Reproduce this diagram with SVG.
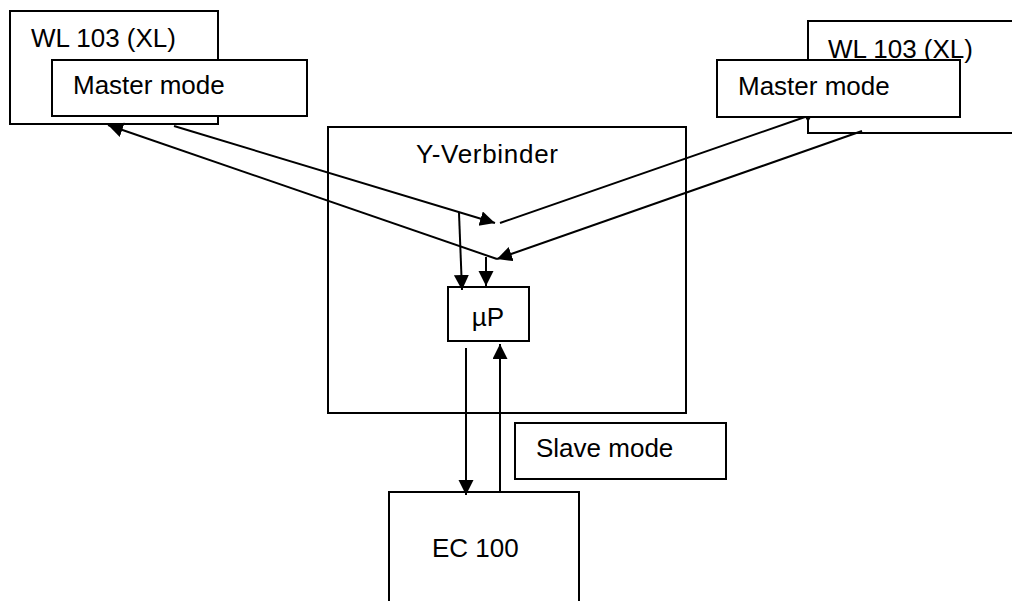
<svg xmlns="http://www.w3.org/2000/svg" width="1012" height="601" viewBox="0 0 1012 601">
<defs>
<style>
.box{fill:#fff;stroke:#000;stroke-width:2}
.frame{fill:none;stroke:#000;stroke-width:2}
.t{font-family:"Liberation Sans",Arial,sans-serif;font-size:26px;fill:#000}
.c{fill:none;stroke:#000;stroke-width:2}
</style>
<marker id="ah" markerUnits="userSpaceOnUse" markerWidth="16" markerHeight="16" refX="15" refY="7.5" orient="auto">
<path d="M0,0 L15,7.5 L0,15 z" fill="#000"/>
</marker>
</defs>
<rect width="1012" height="601" fill="#fff"/>
<g id="wl-left">
<rect class="box" x="10" y="11" width="208" height="113"/>
<text class="t" x="31" y="47">WL 103 (XL)</text>
</g>
<g id="wl-right">
<rect class="box" x="808" y="21" width="250" height="112"/>
<text class="t" x="828" y="58">WL 103 (XL)</text>
</g>
<g id="y-verbinder">
<rect class="frame" x="328" y="127" width="358" height="286"/>
<text class="t" x="416" y="163" textLength="142">Y-Verbinder</text>
</g>
<g id="up">
<rect class="box" x="448" y="287" width="81" height="54"/>
<text class="t" x="488" y="326" text-anchor="middle" font-size="27">µP</text>
</g>
<g id="ec100">
<rect class="box" x="389" y="492" width="190" height="150"/>
<text class="t" x="432" y="557">EC 100</text>
</g>
<g id="slave-mode">
<rect class="box" x="515" y="423" width="211" height="56"/>
<text class="t" x="536" y="457">Slave mode</text>
</g>
<g id="connectors">
<line class="c" x1="174" y1="126" x2="495" y2="223" marker-end="url(#ah)"/>
<line class="c" x1="497" y1="259" x2="108" y2="125" marker-end="url(#ah)"/>
<line class="c" x1="500" y1="223" x2="805" y2="117"/>
<polygon points="805,117 811,117 808,122" fill="#000"/>
<line class="c" x1="862" y1="131" x2="497" y2="259" marker-end="url(#ah)"/>
<line class="c" x1="459" y1="213" x2="462" y2="290" marker-end="url(#ah)"/>
<line class="c" x1="486" y1="257" x2="486" y2="286" marker-end="url(#ah)"/>
<line class="c" x1="466" y1="348" x2="466" y2="495" marker-end="url(#ah)"/>
<line class="c" x1="500" y1="492" x2="500" y2="344" marker-end="url(#ah)"/>
</g>
<g id="master-left">
<rect class="box" x="52" y="60" width="255" height="56"/>
<text class="t" x="73" y="94">Master mode</text>
</g>
<g id="master-right">
<rect class="box" x="717" y="60" width="243" height="57"/>
<text class="t" x="738" y="95">Master mode</text>
</g>
</svg>
